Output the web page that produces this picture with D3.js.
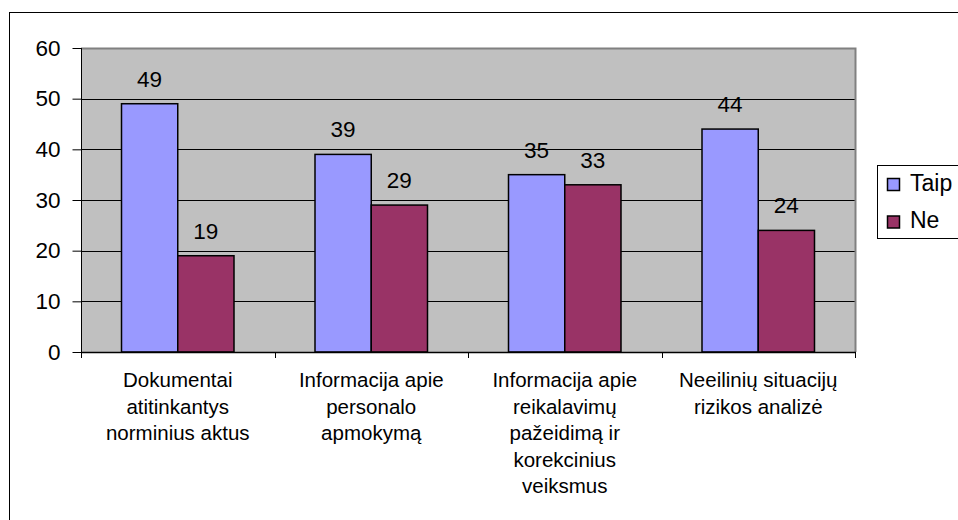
<!DOCTYPE html>
<html>
<head>
<meta charset="utf-8">
<script src="https://cdn.jsdelivr.net/npm/d3@7"></script>
<style>
  html, body { margin: 0; padding: 0; background: #fff; }
  svg { display: block; font-family: "Liberation Sans", Arial, sans-serif; }
</style>
</head>
<body>
<svg id="chart" width="958" height="520"></svg>
<script>
// Categories (each line of a wrapped label is a separate entry)
const categories = [
  ["Dokumentai", "atitinkantys", "norminius aktus"],
  ["Informacija apie", "personalo", "apmokymą"],
  ["Informacija apie", "reikalavimų", "pažeidimą ir", "korekcinius", "veiksmus"],
  ["Neeilinių situacijų", "rizikos analizė"]
];
const seriesNames = ["Taip", "Ne"];
const taipValues = [49, 39, 35, 44];
const neValues = [19, 29, 33, 24];
const yTicks = [0, 10, 20, 30, 40, 50, 60];
const seriesColors = ["#9999FF", "#993366"];

const svg = d3.select("#chart");

// Outer chart frame (extends past the right and bottom edges)
svg.append("rect")
  .attr("x", 9.5).attr("y", 12.5)
  .attr("width", 1000).attr("height", 600)
  .attr("fill", "#fff").attr("stroke", "#000").attr("stroke-width", 1);

const plot = { left: 81, top: 48, right: 855, bottom: 352 };

const x = d3.scaleBand()
  .domain(d3.range(categories.length))
  .range([plot.left, plot.right])
  .paddingInner(0)
  .paddingOuter(0);

const xInner = d3.scaleBand()
  .domain(seriesNames)
  .range([0, x.bandwidth()])
  .paddingInner(0)
  .paddingOuter(0.72);

const y = d3.scaleLinear().domain([0, 60]).range([plot.bottom, plot.top]);

// Plot background
svg.append("rect")
  .attr("x", plot.left).attr("y", plot.top)
  .attr("width", plot.right - plot.left).attr("height", plot.bottom - plot.top)
  .attr("fill", "#C0C0C0");

// Gridlines
svg.append("g")
  .selectAll("line")
  .data(yTicks.filter(d => d > 0 && d < 60))
  .join("line")
  .attr("x1", plot.left).attr("x2", plot.right)
  .attr("y1", d => Math.round(y(d)) + 0.5).attr("y2", d => Math.round(y(d)) + 0.5)
  .attr("stroke", "#000").attr("stroke-width", 1);

// Plot border (top and right)
svg.append("path")
  .attr("d", `M${plot.left},${plot.top + 0.5}H${plot.right + 0.5}V${plot.bottom}`)
  .attr("fill", "none").attr("stroke", "#808080").attr("stroke-width", 2);

// Bars
const data = categories.map((c, i) => ({ i, values: [taipValues[i], neValues[i]] }));
const groups = svg.append("g").selectAll("g")
  .data(data)
  .join("g")
  .attr("transform", d => `translate(${x(d.i)},0)`);

groups.selectAll("rect")
  .data(d => d.values.map((v, k) => ({ key: seriesNames[k], v, k })))
  .join("rect")
  .attr("x", d => xInner(d.key))
  .attr("y", d => y(d.v))
  .attr("width", xInner.bandwidth())
  .attr("height", d => y(0) - y(d.v))
  .attr("fill", d => seriesColors[d.k])
  .attr("stroke", "#000").attr("stroke-width", 1.5);

// Value labels
groups.selectAll("text")
  .data(d => d.values.map((v, k) => ({ key: seriesNames[k], v, k })))
  .join("text")
  .attr("x", d => xInner(d.key) + xInner.bandwidth() / 2)
  .attr("y", d => y(d.v) - 17)
  .attr("text-anchor", "middle")
  .attr("font-size", 22.5)
  .attr("fill", "#000")
  .text(d => d.v);

// Y axis
const yAxis = d3.axisLeft(y).tickValues(yTicks).tickSize(9).tickPadding(12);
const gy = svg.append("g")
  .attr("transform", `translate(${plot.left + 0.5},0)`)
  .call(yAxis);
gy.select(".domain").attr("stroke", "#000").attr("stroke-width", 1)
  .attr("d", `M0,${plot.top}V${plot.bottom + 5}`);
gy.selectAll(".tick line").attr("stroke", "#000");
gy.selectAll(".tick text")
  .attr("font-size", 22.5)
  .attr("font-family", "Liberation Sans, Arial, sans-serif")
  .attr("fill", "#000");

// X axis baseline and category dividers
const xAxisG = svg.append("g");
xAxisG.append("line")
  .attr("x1", plot.left).attr("x2", plot.right + 1)
  .attr("y1", plot.bottom + 0.5).attr("y2", plot.bottom + 0.5)
  .attr("stroke", "#000").attr("stroke-width", 1.5);
xAxisG.selectAll("line.div")
  .data(d3.range(categories.length + 1))
  .join("line")
  .attr("class", "div")
  .attr("x1", i => Math.round(plot.left + i * x.step()) + 0.5)
  .attr("x2", i => Math.round(plot.left + i * x.step()) + 0.5)
  .attr("y1", plot.bottom).attr("y2", plot.bottom + 6)
  .attr("stroke", "#000");

// Category labels
xAxisG.selectAll("text.cat")
  .data(categories.map((lines, i) => ({ lines, i })))
  .join("text")
  .attr("class", "cat")
  .attr("text-anchor", "middle")
  .attr("font-size", 20.5)
  .attr("fill", "#000")
  .each(function (d) {
    const t = d3.select(this);
    d.lines.forEach((line, j) => {
      t.append("tspan")
        .attr("x", x(d.i) + x.bandwidth() / 2)
        .attr("y", 387 + j * 26.5)
        .text(line);
    });
  });

// Legend
const legend = svg.append("g");
legend.append("rect")
  .attr("x", 877.5).attr("y", 165.5)
  .attr("width", 120).attr("height", 73)
  .attr("fill", "#fff").attr("stroke", "#000").attr("stroke-width", 1);
const items = legend.selectAll("g.item")
  .data(seriesNames)
  .join("g")
  .attr("class", "item")
  .attr("transform", (d, i) => `translate(0,${i * 37.5})`);
items.append("rect")
  .attr("x", 887.5).attr("y", 178.5)
  .attr("width", 12).attr("height", 12)
  .attr("fill", (d, i) => seriesColors[i])
  .attr("stroke", "#000").attr("stroke-width", 1.5);
items.append("text")
  .attr("x", 910).attr("y", 190.5)
  .attr("font-size", 23)
  .attr("fill", "#000")
  .text(d => d);
</script>
</body>
</html>
